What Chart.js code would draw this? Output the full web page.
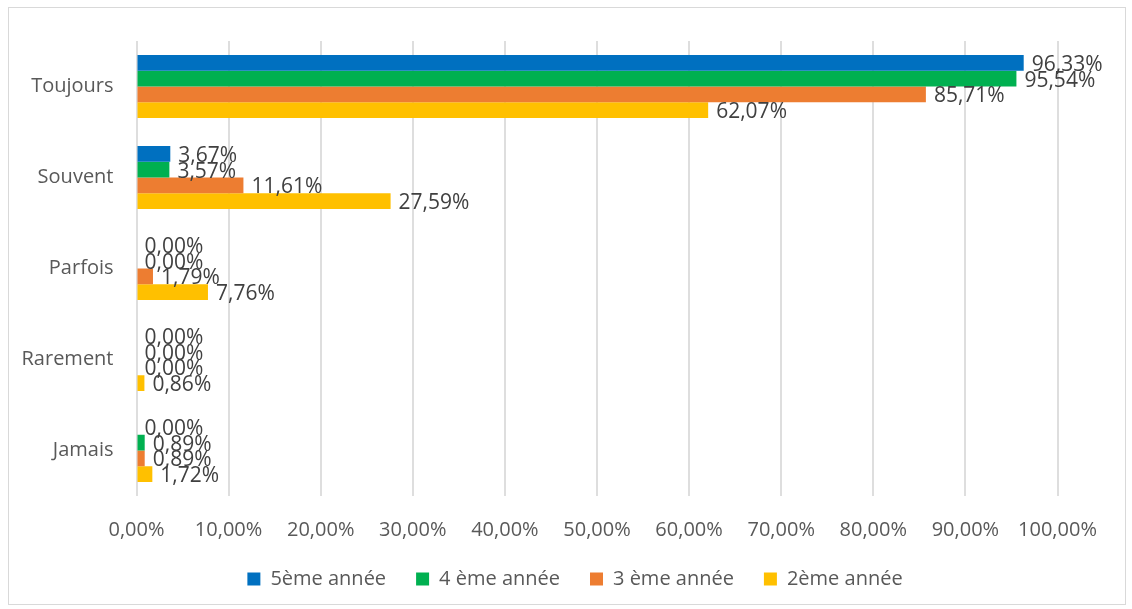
<!DOCTYPE html>
<html>
<head>
<meta charset="utf-8">
<script src="https://cdn.jsdelivr.net/npm/chart.js@4.4.0/dist/chart.umd.min.js"></script>
<style>
  html, body { margin: 0; padding: 0; background: #fff; }
  #wrap { width: 1132px; height: 609px; position: relative; }
</style>
</head>
<body>
<div id="wrap"><canvas id="c" width="1132" height="609"></canvas></div>
<script>
const categories = ["Toujours", "Souvent", "Parfois", "Rarement", "Jamais"];
const seriesNames = ["5ème année", "4 ème année", "3 ème année", "2ème année"];
const s5 = [96.33, 3.67, 0.00, 0.00, 0.00];
const s4 = [95.54, 3.57, 0.00, 0.00, 0.89];
const s3 = [85.71, 11.61, 1.79, 0.00, 0.89];
const s2 = [62.07, 27.59, 7.76, 0.86, 1.72];
const xTicks = [0, 10, 20, 30, 40, 50, 60, 70, 80, 90, 100];
const colors = ["#0070C0", "#00B050", "#ED7D31", "#FFC000"];

const FONT = "'Open Sans', 'DejaVu Sans', sans-serif";
const fmt = v => v.toFixed(2).replace('.', ',') + '%';

const borderPlugin = {
  id: 'outerBorder',
  beforeDraw(chart) {
    const ctx = chart.ctx;
    ctx.save();
    ctx.fillStyle = '#fff';
    ctx.fillRect(0, 0, chart.width, chart.height);
    ctx.strokeStyle = '#d9d9d9';
    ctx.lineWidth = 1;
    ctx.strokeRect(8.5, 7.5, 1117, 597);
    ctx.restore();
  }
};

const labelPlugin = {
  id: 'valueLabels',
  afterDatasetsDraw(chart) {
    const ctx = chart.ctx;
    ctx.save();
    ctx.font = "21px " + FONT;
    ctx.fillStyle = '#404040';
    ctx.textAlign = 'left';
    ctx.textBaseline = 'middle';
    chart.data.datasets.forEach((ds, i) => {
      const meta = chart.getDatasetMeta(i);
      meta.data.forEach((el, j) => {
        ctx.fillText(fmt(ds.data[j]), el.x + 8, el.y + 2);
      });
    });
    ctx.restore();
  }
};

const data = {
  labels: categories,
  datasets: [s5, s4, s3, s2].map((arr, i) => ({
    label: seriesNames[i],
    data: arr,
    backgroundColor: colors[i],
    borderWidth: 0,
    barPercentage: 1.0,
    categoryPercentage: 0.69
  }))
};

new Chart(document.getElementById('c'), {
  type: 'bar',
  data,
  plugins: [borderPlugin, labelPlugin],
  options: {
    indexAxis: 'y',
    responsive: false,
    animation: false,
    devicePixelRatio: 1,
    layout: { padding: { left: 18, right: 0, top: 41, bottom: 10 } },
    scales: {
      x: {
        min: 0, max: 100,
        afterBuildTicks: s => { s.ticks = xTicks.map(v => ({ value: v })); },
        ticks: {
          callback: v => fmt(v),
          font: { size: 20, family: FONT },
          color: '#595959',
          padding: 22,
          maxRotation: 0
        },
        grid: { color: '#dedede', lineWidth: 2, drawTicks: false },
        border: { display: false },
        afterFit: s => { s.height = 43; }
      },
      y: {
        ticks: {
          font: { size: 20, family: FONT },
          color: '#595959',
          padding: 23
        },
        grid: { display: false, drawTicks: false },
        border: { display: false },
        afterFit: s => { s.width = 118.5; }
      },
      yr: {
        type: 'linear',
        position: 'right',
        display: true,
        ticks: { display: false },
        grid: { display: false, drawTicks: false },
        border: { display: false },
        afterFit: s => { s.width = 74.5; }
      }
    },
    plugins: {
      legend: {
        position: 'bottom',
        labels: {
          boxWidth: 13,
          boxHeight: 13,
          padding: 30,
          font: { size: 20, family: FONT },
          color: '#595959'
        }
      },
      tooltip: { enabled: false }
    }
  }
});
</script>
</body>
</html>
